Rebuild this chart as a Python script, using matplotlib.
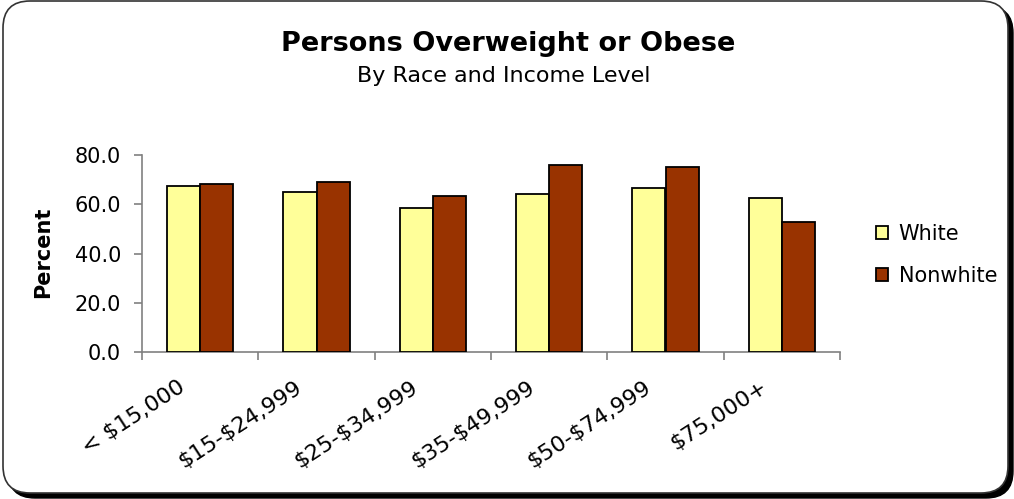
import numpy as np
import matplotlib
matplotlib.use("Agg")
import matplotlib.pyplot as plt
import matplotlib.transforms as mtransforms
from matplotlib.patches import FancyBboxPatch

# values
categories = ["< $15,000", "$15-$24,999", "$25-$34,999", "$35-$49,999", "$50-$74,999", "$75,000+"]
white = [67.6, 65.1, 58.6, 64.3, 66.8, 62.7]
nonwhite = [68.4, 69.2, 63.5, 75.8, 75.1, 52.9]
series_names = ["White", "Nonwhite"]
yticks = [0, 20, 40, 60, 80]

plt.rcParams["font.family"] = ["DejaVu Sans"]

W, H = 1014, 499
fig = plt.figure(figsize=(W / 100, H / 100), dpi=100)


def px_box(x0, top, x1, bottom, **kw):
    # rounded box given in pixel coords (origin top-left), drawn in inches
    return FancyBboxPatch((x0 / 100, (H - bottom) / 100), (x1 - x0) / 100, (bottom - top) / 100,
                          boxstyle="round,pad=0,rounding_size=0.27",
                          transform=fig.dpi_scale_trans, **kw)


# rounded chart area with a drop shadow
shadow = px_box(8, 6, 1013, 498, facecolor="black", edgecolor="black", lw=1, zorder=0)
frame = px_box(3, 1, 1008, 493, facecolor="white", edgecolor="#333333", lw=1.2, zorder=1)
fig.patches.extend([shadow, frame])

ax = fig.add_axes([142 / W, 1 - 352 / H, 698 / W, 197 / H])
ax.set_zorder(5)
ax.set_facecolor("none")

x = np.arange(len(categories))
w = 0.285
ax.bar(x - w / 2, white, w, color="#FFFF99", edgecolor="black", lw=1.3, label=series_names[0], zorder=3)
ax.bar(x + w / 2, nonwhite, w, color="#993300", edgecolor="black", lw=1.3, label=series_names[1], zorder=3)

ax.set_xlim(-0.5, len(categories) - 0.5)
ax.set_ylim(0, 80)
ax.set_yticks(yticks)
ax.set_yticklabels([f"{v:.1f}" for v in yticks], fontsize=15)

# labels at the centres, tick marks at the category boundaries
ax.set_xticks(x)
ax.set_xticklabels(categories, fontsize=16, rotation=33, ha="right",
                   rotation_mode="anchor", parse_math=False)
ax.tick_params(axis="x", which="major", length=0, pad=18)
shift = mtransforms.ScaledTranslation(-22 / 100, 0, fig.dpi_scale_trans)
for lab in ax.get_xticklabels():
    lab.set_transform(lab.get_transform() + shift)
ax.set_xticks(np.arange(len(categories) + 1) - 0.5, minor=True)
ax.tick_params(axis="x", which="minor", length=6, color="#808080", width=1.2)
ax.tick_params(axis="y", length=6, color="#808080", width=1.2, pad=9)

for s in ["top", "right"]:
    ax.spines[s].set_visible(False)
for s in ["left", "bottom"]:
    ax.spines[s].set_color("#808080")
    ax.spines[s].set_linewidth(1.2)

fig.text(508 / W, 1 - 44 / H, "Persons Overweight or Obese", fontsize=19.5,
         fontweight="bold", ha="center", va="center", zorder=5)
fig.text(504 / W, 1 - 76 / H, "By Race and Income Level", fontsize=16,
         ha="center", va="center", zorder=5)
fig.text(43 / W, 1 - 252 / H, "Percent", fontsize=15, fontweight="bold",
         rotation=90, ha="center", va="center", zorder=5)

leg = fig.legend(loc="center left", bbox_to_anchor=(857 / W, 1 - 255 / H),
                 frameon=False, fontsize=15, handlelength=0.6, handleheight=0.6,
                 handletextpad=0.5, labelspacing=1.05)
leg.set_zorder(5)

fig.savefig("out.png", dpi=100)
